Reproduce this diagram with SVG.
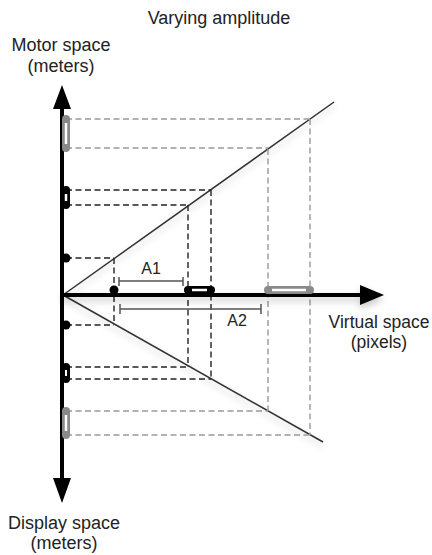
<svg xmlns="http://www.w3.org/2000/svg" width="432" height="555" viewBox="0 0 432 555">
<defs>
<filter id="sh" filterUnits="userSpaceOnUse" x="0" y="0" width="432" height="555">
<feDropShadow dx="0" dy="4" stdDeviation="3.5" flood-color="#000" flood-opacity="0.22"/>
</filter>
<style>
text{font-family:"Liberation Sans",Arial,sans-serif;fill:#222;text-anchor:middle}
.lbl{font-size:18px}
.a{font-size:16px}
.db{stroke:#222;stroke-width:1.4;stroke-dasharray:6 3.5;fill:none}
.dg{stroke:#999;stroke-width:1.4;stroke-dasharray:6 3.5;fill:none}
.diag{stroke:#333;stroke-width:1.5;fill:none}
.axis{stroke:#000;stroke-width:4;fill:none}
.iv{stroke:#555;stroke-width:1.5;fill:none}
</style>
</defs>
<rect width="432" height="555" fill="#fff"/>

<g id="title"><text class="lbl" x="219" y="24">Varying  amplitude</text></g>

<g id="connectors">
<!-- diagonals -->
<line class="diag" x1="63" y1="295" x2="334" y2="102" filter="url(#sh)"/>
<line class="diag" x1="63" y1="295" x2="323" y2="442" filter="url(#sh)"/>
<!-- gray dashed -->
<path class="dg" d="M66 119H310M66 148H268M66 411H268M66 435H310M310 119V435M268 149V411"/>
<!-- black dashed -->
<path class="db" d="M66 258H114M66 205H188M66 190H211M66 325H114M66 367H188M66 379H211M114 258V325M188 205V367M211 190V379"/>
</g>

<g id="virtual-axis" filter="url(#sh)">
<line class="axis" x1="62" y1="295" x2="368" y2="295"/>
<polygon points="384,295 360,285 360,305" fill="#000"/>
</g>
<g id="motor-axis">
<line class="axis" x1="62" y1="100" x2="62" y2="485"/>
<polygon points="62,85 53,109 71,109" fill="#000"/>
<polygon points="62,503 53,478 71,478" fill="#000"/>
</g>

<g id="marks-vertical">
<line x1="66" y1="119" x2="66" y2="148" stroke="#8a8a8a" stroke-width="8" stroke-linecap="round"/>
<line x1="66" y1="123" x2="66" y2="144" stroke="#fff" stroke-width="2.5"/>
<line x1="66" y1="190" x2="66" y2="205" stroke="#000" stroke-width="8" stroke-linecap="round"/>
<line x1="66" y1="194" x2="66" y2="201" stroke="#fff" stroke-width="2.5"/>
<circle cx="66" cy="258" r="4.5" fill="#000"/>
<circle cx="66" cy="325" r="4.5" fill="#000"/>
<line x1="66" y1="367" x2="66" y2="379" stroke="#000" stroke-width="8" stroke-linecap="round"/>
<line x1="66" y1="370" x2="66" y2="376" stroke="#fff" stroke-width="2"/>
<line x1="66" y1="411" x2="66" y2="435" stroke="#8a8a8a" stroke-width="8" stroke-linecap="round"/>
<line x1="66" y1="415" x2="66" y2="431" stroke="#fff" stroke-width="2.5"/>
</g>

<g id="marks-horizontal">
<circle cx="114" cy="290" r="4.5" fill="#000"/>
<line x1="188" y1="290" x2="211" y2="290" stroke="#000" stroke-width="8" stroke-linecap="round"/>
<line x1="192" y1="290" x2="207" y2="290" stroke="#fff" stroke-width="2.5"/>
<line x1="268" y1="290" x2="310" y2="290" stroke="#8a8a8a" stroke-width="8" stroke-linecap="round"/>
<line x1="272" y1="290" x2="306" y2="290" stroke="#fff" stroke-width="2.5"/>
</g>

<g id="A1">
<path class="iv" d="M119 281H183M119 277V286M183 277V286"/>
<text class="a" x="151" y="274">A1</text>
</g>
<g id="A2">
<path class="iv" d="M120 309H261M120 304V314M261 304V314"/>
<text class="a" x="237" y="326">A2</text>
</g>

<g id="label-motor"><text class="lbl" x="61" y="51">Motor space</text><text class="lbl" x="61" y="72">(meters)</text></g>
<g id="label-virtual"><text class="lbl" x="379" y="328" style="font-size:17.5px">Virtual space</text><text class="lbl" x="379" y="348" style="font-size:17.5px">(pixels)</text></g>
<g id="label-display"><text class="lbl" x="64" y="529">Display space</text><text class="lbl" x="64" y="549">(meters)</text></g>
</svg>
